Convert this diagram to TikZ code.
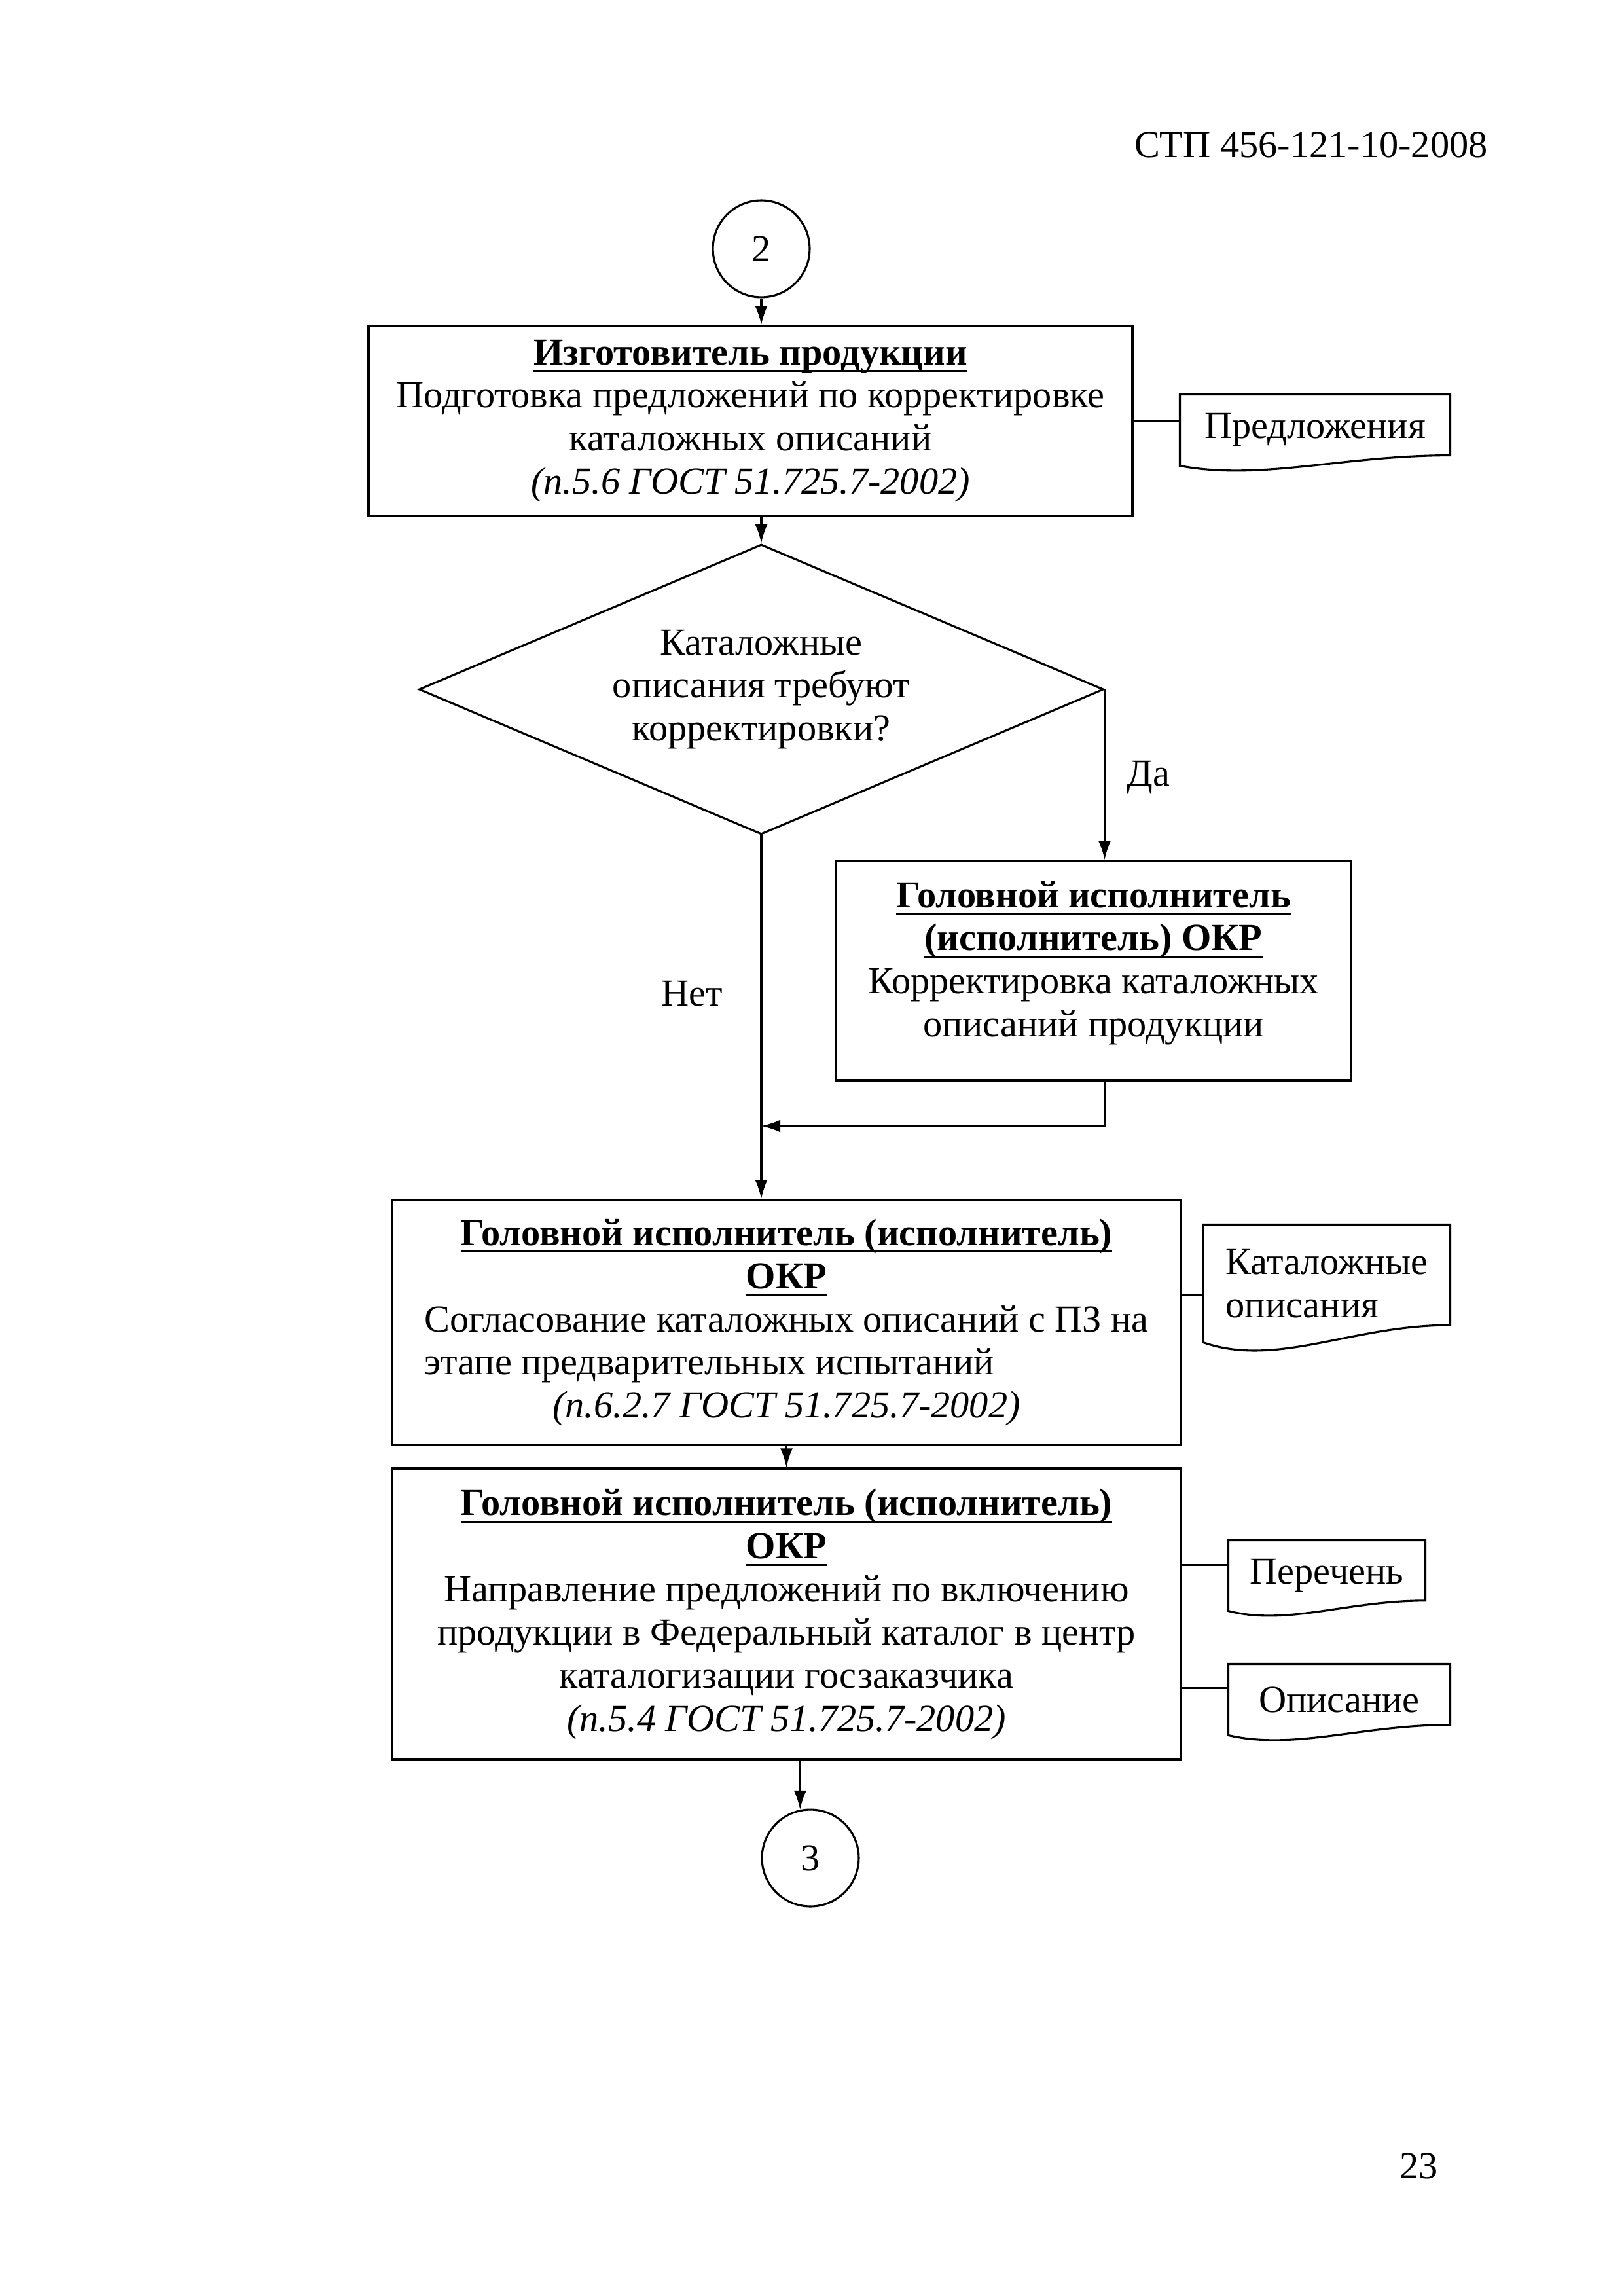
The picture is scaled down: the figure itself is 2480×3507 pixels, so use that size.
\documentclass[tikz,border=0pt]{standalone}
\usepackage{fontspec}
\setmainfont{Liberation Serif}
\usetikzlibrary{shapes.geometric,arrows.meta,calc}

% underline with a heavier rule
\newcommand{\uln}[1]{\leavevmode\setbox0=\hbox{#1}\rlap{\rule[-2.6pt]{\wd0}{0.75pt}}\box0}

\tikzset{every picture/.style={line width=0.75pt}}
\tikzset{
  txt/.style={font=\fontsize{14pt}{15.8pt}\selectfont},
  proc/.style={txt, draw, rectangle, align=center, inner sep=0pt},
  decide/.style={txt, draw, diamond, aspect=2.36, align=center, inner sep=0pt,
                 minimum width=251pt, minimum height=106.3pt},
  conn/.style={txt, draw, circle, minimum size=35.5pt, inner sep=0pt},
  doc/.style={txt, rectangle, align=left, inner sep=0pt},
  arr/.style={-{Latex[length=7pt,width=4.6pt]}},
}

% outline of a document shape drawn round node #1, #2 = its height (px)
\newcommand{\docoutline}[2]{%
  \draw (#1.south west) -- (#1.north west) -- (#1.north east)
    -- ($(#1.south east)+(0,-0.15*#2)$)
    .. controls ($(#1.south west)!0.6!(#1.south east)+(0,-0.15*#2)$)
    and ($(#1.south west)!0.3!(#1.south east)+(0,0.22*#2)$) .. (#1.south west) -- cycle;}

\begin{document}
\begin{tikzpicture}[x=0.24pt,y=0.24pt,yscale=-1]
\useasboundingbox (0,0) rectangle (2480,3507);
%Header and page number
\node[txt, anchor=base east] (hdr) at (2288,241) {СТП 456-121-10-2008};
\node[txt, anchor=base east] (pgno) at (2212,3327) {23};
%Shape: Circle
\node[conn] (c2) at (1163,380) {2};
%Shape: Rectangle
\node[proc, minimum width=280.1pt, minimum height=69.6pt] (box1) at (1146.5,643)
  {\uln{\textbf{Изготовитель продукции}}\\
   Подготовка предложений по корректировке\\
   каталожных описаний\\
   \textit{(п.5.6 ГОСТ 51.725.7-2002)}};
%Shape: Document
\node[doc, minimum width=98.4pt, minimum height=25.4pt] (pred) at (2009,657) {Предложения};
\docoutline{pred}{106}
%Shape: Diamond
\node[decide] (dia) at (1163,1053)
  {Каталожные\\ описания требуют\\ корректировки?};
%Shape: Rectangle
\node[proc, minimum width=188.9pt, minimum height=80.4pt] (box2) at (1670.5,1482.5)
  {\uln{\textbf{Головной исполнитель}}\\
   \uln{\textbf{(исполнитель) ОКР}}\\
   Корректировка каталожных\\
   описаний продукции\\[-12pt]\strut};
%Shape: Rectangle
\node[proc, minimum width=289.2pt, minimum height=89.8pt] (box3) at (1201.5,2020)
  {\uln{\textbf{Головной исполнитель (исполнитель)}}\\
   \uln{\textbf{ОКР}}\\
   Согласование каталожных описаний с ПЗ на\\
   \rlap{этапе предварительных испытаний}\phantom{Согласование каталожных описаний с ПЗ на}\\
   \textit{(п.6.2.7 ГОСТ 51.725.7-2002)}};
%Shape: Document
\node[doc, minimum width=89.8pt, minimum height=42.5pt] (catdoc) at (2027,1960.5)
  {Каталожные\\ описания};
\docoutline{catdoc}{177}
%Shape: Rectangle
\node[proc, minimum width=289.2pt, minimum height=106.8pt] (box4) at (1201.5,2465.5)
  {\uln{\textbf{Головной исполнитель (исполнитель)}}\\
   \uln{\textbf{ОКР}}\\
   Направление предложений по включению\\
   продукции в Федеральный каталог в центр\\
   каталогизации госзаказчика\\
   \textit{(п.5.4 ГОСТ 51.725.7-2002)}};
%Shape: Document
\node[doc, minimum width=71.5pt, minimum height=25.2pt] (listdoc) at (2027,2406.5) {Перечень};
\docoutline{listdoc}{105}
\node[doc, minimum width=80.6pt, minimum height=25.4pt] (descdoc) at (2046,2596) {Описание};
\docoutline{descdoc}{106}
%Shape: Circle
\node[conn] (c3) at (1238,2838) {3};
%Labels
\node[txt, anchor=base west] (yes) at (1706,1200) {Да};
\node[txt, anchor=base west] (no) at (995,1536) {Нет};
\coordinate (merge) at (1163,1720);
%Straight Lines
\draw[arr] (c2.south) -- (c2.south |- box1.north);
\draw[arr] (c2.south |- box1.south) -- (dia.north);
\draw[arr] (dia.east) -- (dia.east |- box2.north);
\draw[arr] (dia.south) -- (dia.south |- box3.north);
\draw[arr] (dia.east |- box2.south) |- (merge);
\draw[arr] (box3.south) -- (box4.north);
\draw[arr] (box4.south -| c3.102) -- (c3.102);
%Document links
\path ($(pred.north west)!0.37!(pred.south west)$) coordinate (predin);
\draw (predin) -- (predin -| box1.east);
\path ($(catdoc.north west)!0.6!(catdoc.south west)$) coordinate (catin);
\draw (catin) -- (catin -| box3.east);
\path ($(listdoc.north west)!0.35!(listdoc.south west)$) coordinate (listin);
\draw (listin) -- (listin -| box4.east);
\path ($(descdoc.north west)!0.34!(descdoc.south west)$) coordinate (descin);
\draw (descin) -- (descin -| box4.east);
\end{tikzpicture}
\end{document}
